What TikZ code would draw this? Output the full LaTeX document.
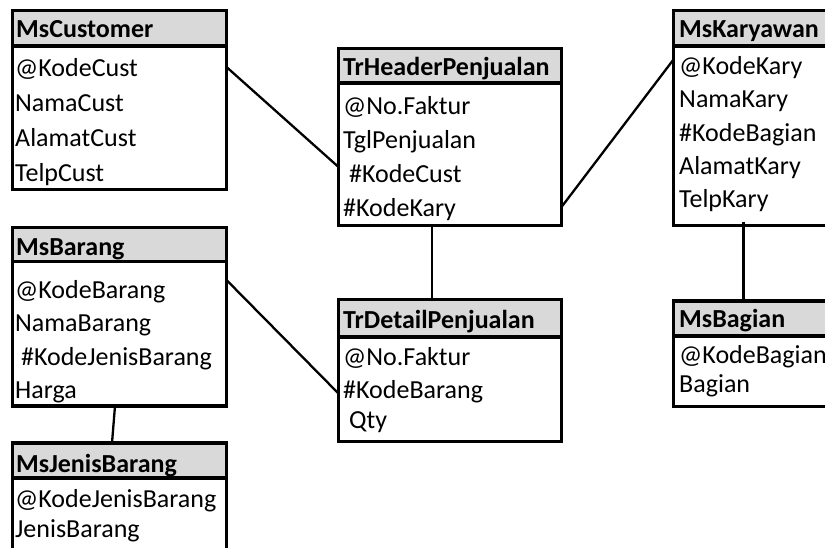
\documentclass[tikz,border=0pt]{standalone}
\usepackage{fontspec}
\setmainfont{Carlito}
\usetikzlibrary{calc}
\definecolor{hdrgray}{HTML}{D9D9D9}
\newcommand\fldfont{\fontsize{26}{30}\selectfont}
\newcommand\ttlfont{\fontsize{26}{30}\selectfont\bfseries}
% name, x1, y1, x2, y2, header bottom
\newcommand\ertable[6]{%
  \fill[hdrgray] (#2,#3) rectangle (#4,#6);
  \pgfmathsetmacro\tabw{#4-#2}%
  \pgfmathsetmacro\tabh{#5-#3}%
  \node[tbox, minimum width=\tabw pt, minimum height=\tabh pt] (#1) at (#2,#3) {};
  \draw[sepline] (#2,#6) -- (#4,#6);
}
\begin{document}
\begin{tikzpicture}[x=1pt,y=-1pt,
  tbox/.style={draw, line width=3.6pt, inner sep=0pt, outer sep=0pt, anchor=north west},
  sepline/.style={line width=3.6pt},
  link/.style={line width=2.3pt},
  fld/.style={anchor=base west, inner sep=0pt, font=\fldfont},
  ttl/.style={anchor=base west, inner sep=0pt, font=\ttlfont}]
\useasboundingbox (0,0) rectangle (825,547);

\ertable{cust}{12.5}{10.5}{226.5}{189.5}{46}
\ertable{hdr}{338.5}{48.5}{561.5}{225.5}{83}
\ertable{kary}{673.5}{10.5}{845}{225.5}{46}
\ertable{bagian}{673.5}{301}{845}{406.5}{336}
\ertable{barang}{12.5}{227.5}{226.5}{406}{261.5}
\ertable{detail}{338.5}{299.5}{561.5}{441.5}{337}
\ertable{jenis}{12.5}{443}{226.5}{570}{478}

% MsCustomer
\node[ttl] (cust-t) at (16,37.5) {MsCustomer};
\node[fld] (cust-1) at (15,76) {@KodeCust};
\node[fld] (cust-2) at (15,111) {NamaCust};
\node[fld] (cust-3) at (15,146) {AlamatCust};
\node[fld] (cust-4) at (15,181) {TelpCust};

% TrHeaderPenjualan
\node[ttl] (hdr-t) at (343,75) {TrHeaderPenjualan};
\node[fld] (hdr-1) at (343,114) {@No.Faktur};
\node[fld] (hdr-2) at (343,148) {TglPenjualan};
\node[fld] (hdr-3) at (343,182) {\ \#KodeCust};
\node[fld] (hdr-4) at (343,216) {\#KodeKary};

% MsKaryawan
\node[ttl] (kary-t) at (679,37.5) {MsKaryawan};
\node[fld] (kary-1) at (679,74) {@KodeKary};
\node[fld] (kary-2) at (679,107) {NamaKary};
\node[fld] (kary-3) at (679,141) {\#KodeBagian};
\node[fld] (kary-4) at (679,174) {AlamatKary};
\node[fld] (kary-5) at (679,207) {TelpKary};

% MsBagian
\node[ttl] (bagian-t) at (679,327) {MsBagian};
\node[fld] (bagian-1) at (679,363) {@KodeBagian};
\node[fld] (bagian-2) at (679,392) {Bagian};

% MsBarang
\node[ttl] (barang-t) at (16,255) {MsBarang};
\node[fld] (barang-1) at (15,298) {@KodeBarang};
\node[fld] (barang-2) at (15,331) {NamaBarang};
\node[fld] (barang-3) at (15,365) {\ \#KodeJenisBarang};
\node[fld] (barang-4) at (15,398) {Harga};

% TrDetailPenjualan
\node[ttl] (detail-t) at (343,328) {TrDetailPenjualan};
\node[fld] (detail-1) at (343,365) {@No.Faktur};
\node[fld] (detail-2) at (343,398) {\#KodeBarang};
\node[fld] (detail-3) at (343,428) {\ Qty};

% MsJenisBarang
\node[ttl] (jenis-t) at (16,472) {MsJenisBarang};
\node[fld] (jenis-1) at (15,507) {@KodeJenisBarang};
\node[fld] (jenis-2) at (15,537) {JenisBarang};

% connectors
\draw[link] ($(cust.north east)+(0,56.5)$) -- ($(hdr.north west)+(0,118.5)$);
\draw[link] ($(hdr.north east)+(0,158.5)$) -- ($(kary.north west)+(0,49)$);
\draw[link] ($(hdr.south west)+(93.5,0)$) -- ($(detail.north west)+(93.5,0)$);
\draw[link] ($(barang.north east)+(0,52.5)$) -- ($(detail.north west)+(0,94)$);
\draw[link] ($(barang.south west)+(102.5,0)$) -- ($(jenis.north west)+(99.5,0)$);
\draw[link] ($(kary.south west)+(70,-4)$) -- ($(bagian.north west)+(70,0)$);
\end{tikzpicture}
\end{document}
